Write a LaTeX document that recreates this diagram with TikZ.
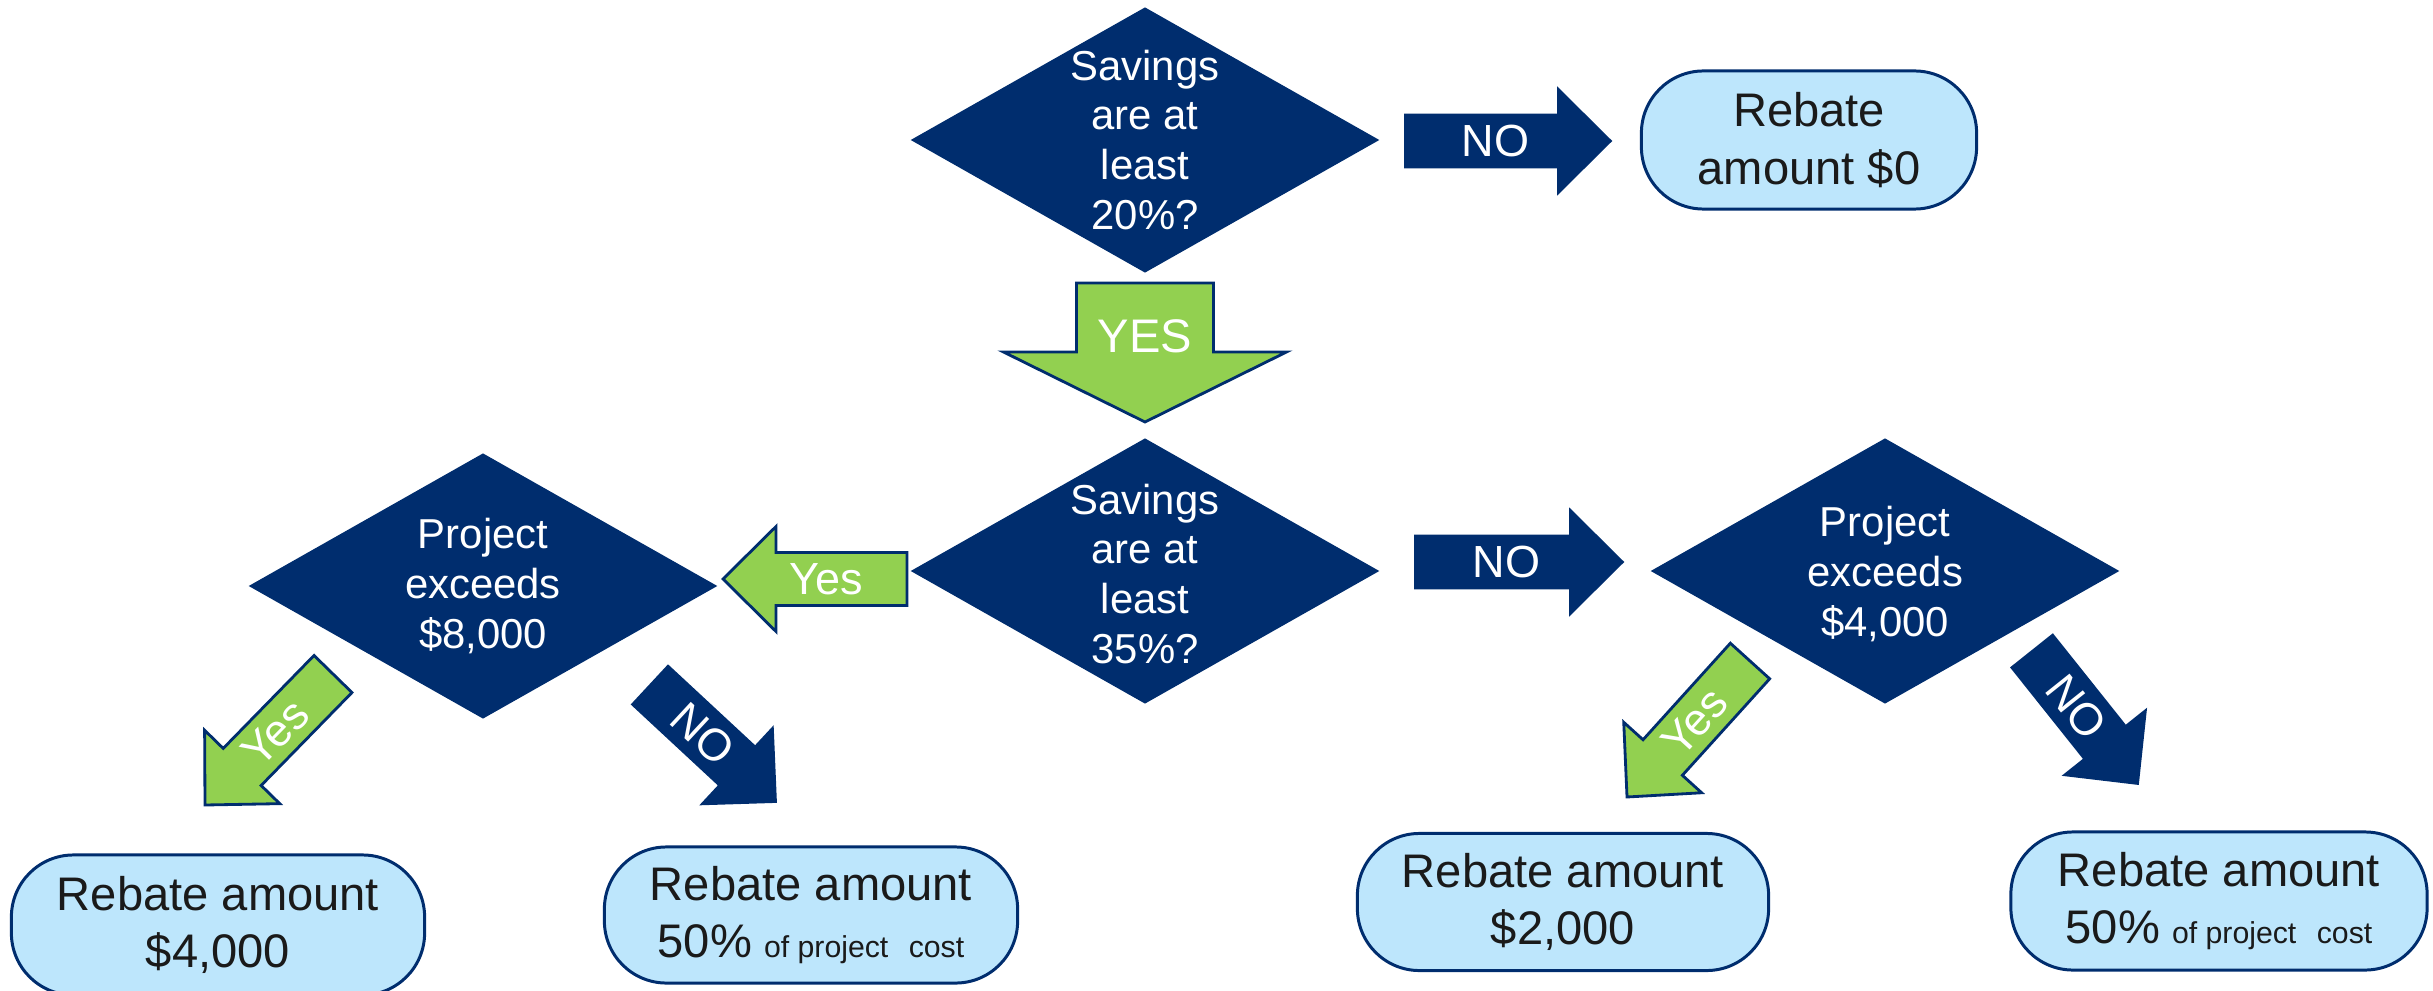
\documentclass[tikz,border=0pt]{standalone}
\usepackage{fontspec}
\setmainfont{Liberation Sans}
\usetikzlibrary{shapes.geometric,calc}
\definecolor{navy}{RGB}{0,45,110}
\definecolor{lgreen}{RGB}{146,208,80}
\definecolor{lblue}{RGB}{189,230,252}
\definecolor{ink}{RGB}{26,26,26}
% #1 style, #2 tail, #3 tip, #4 shaft half width, #5 head half width, #6 head length
\newcommand{\blockarrow}[6]{%
  \path[#1] let \p1=($(#3)-(#2)$), \n1={atan2(\y1,\x1)}, \n2={veclen(\x1,\y1)} in
    ($(#2)+(\n1+90:#4)$)
    -- ($(#2)+(\n1:\n2-#6)+(\n1+90:#4)$)
    -- ($(#2)+(\n1:\n2-#6)+(\n1+90:#5)$)
    -- (#3)
    -- ($(#2)+(\n1:\n2-#6)+(\n1-90:#5)$)
    -- ($(#2)+(\n1:\n2-#6)+(\n1-90:#4)$)
    -- ($(#2)+(\n1-90:#4)$) -- cycle;}
\begin{document}
\begin{tikzpicture}[x=0.01cm,y=-0.01cm,
  dia/.style={diamond, fill=navy, draw=navy, minimum width=4.66cm, minimum height=2.64cm, inner sep=0pt},
  dtext/.style={text=white, align=center, inner sep=0pt, font=\fontsize{11.9pt}{14.2pt}\selectfont},
  result/.style={rectangle, rounded corners=0.62cm, fill=lblue, draw=navy, line width=0.85pt,
    text=ink, align=center, inner sep=0pt, font=\fontsize{13.4pt}{16.3pt}\selectfont},
  noarrow/.style={fill=navy, draw=navy, line width=0.5pt},
  yesarrow/.style={fill=lgreen, draw=navy, line width=0.8pt},
  lbl/.style={text=white, inner sep=0pt, font=\fontsize{12.8pt}{15pt}\selectfont}]
\useasboundingbox (0,0) rectangle (2433,991);

% decision diamonds
\node[dia] (d1) at (1145,140) {};
\node[dtext] (d1t) at (d1.center) {Savings\\are at\\least\\20\%?};
\node[dia] (d2) at (1145,571) {};
\node[dtext] (d2t) at ([yshift=-0.03cm]d2.center) {Savings\\are at\\least\\35\%?};
\node[dia] (dL) at (483,586) {};
\node[dtext] (dLt) at (dL.center) {Project\\exceeds\\\$8,000};
\node[dia] (dR) at (1885,571) {};
\node[dtext] (dRt) at ([yshift=-0.03cm]dR.center) {Project\\exceeds\\\$4,000};

% results
\node[result, minimum width=3.35cm, minimum height=1.38cm] (r0) at (1809,140) {Rebate\\amount \$0};
\node[result, minimum width=4.13cm, minimum height=1.40cm] (rL) at (218,925) {Rebate amount\\\$4,000};
\node[result, minimum width=4.13cm, minimum height=1.36cm] (rM) at (811,915)
  {Rebate amount\\50\%\hspace{0.12cm}{\fontsize{8.6pt}{10pt}\selectfont of project\hspace{0.12cm} cost}};
\node[result, minimum width=4.11cm, minimum height=1.37cm] (rR1) at (1563,902) {Rebate amount\\\$2,000};
\node[result, minimum width=4.16cm, minimum height=1.38cm] (rR2) at (2219,901)
  {Rebate amount\\50\%\hspace{0.12cm}{\fontsize{8.6pt}{10pt}\selectfont of project\hspace{0.12cm} cost}};

% arrow end points
\coordinate (a1s) at (1405,141);  \coordinate (a1e) at (1611,141);
\coordinate (a2s) at (1145,283);  \coordinate (a2e) at (1145,422);
\coordinate (a3s) at (1415,562);  \coordinate (a3e) at (1623,562);
\coordinate (a4s) at (907,579);   \coordinate (a4e) at (723,579);
\coordinate (a5s) at (333,674);   \coordinate (a5e) at (205,805);
\coordinate (a6s) at (650,685);   \coordinate (a6e) at (776,802);
\coordinate (a7s) at (1750,661);  \coordinate (a7e) at (1627,797);
\coordinate (a8s) at (2032,651);  \coordinate (a8e) at (2138,784);

% block arrows
\blockarrow{noarrow}{a1s}{a1e}{0.265cm}{0.525cm}{0.53cm}
\blockarrow{yesarrow}{a2s}{a2e}{0.685cm}{1.415cm}{0.70cm}
\blockarrow{noarrow}{a3s}{a3e}{0.265cm}{0.525cm}{0.53cm}
\blockarrow{yesarrow}{a4s}{a4e}{0.265cm}{0.525cm}{0.53cm}
\blockarrow{yesarrow}{a5s}{a5e}{0.265cm}{0.525cm}{0.53cm}
\blockarrow{noarrow}{a6s}{a6e}{0.265cm}{0.525cm}{0.53cm}
\blockarrow{yesarrow}{a7s}{a7e}{0.265cm}{0.525cm}{0.53cm}
\blockarrow{noarrow}{a8s}{a8e}{0.265cm}{0.525cm}{0.53cm}

% arrow labels
\path (a1s) -- (a1e) node[lbl, sloped, pos=0.44] (l1) {NO};
\node[lbl, font=\fontsize{13.4pt}{15pt}\selectfont] (l2) at ($(a2s)!0.38!(a2e)$) {YES};
\path (a3s) -- (a3e) node[lbl, sloped, pos=0.44] (l3) {NO};
\path (a4s) -- (a4e) node[lbl, sloped, pos=0.44] (l4) {Yes};
\path (a5s) -- (a5e) node[lbl, sloped, pos=0.45] (l5) {Yes};
\path (a6s) -- (a6e) node[lbl, sloped, pos=0.42] (l6) {NO};
\path (a7s) -- (a7e) node[lbl, sloped, pos=0.45] (l7) {Yes};
\path (a8s) -- (a8e) node[lbl, sloped, pos=0.42] (l8) {NO};
\end{tikzpicture}
\end{document}
